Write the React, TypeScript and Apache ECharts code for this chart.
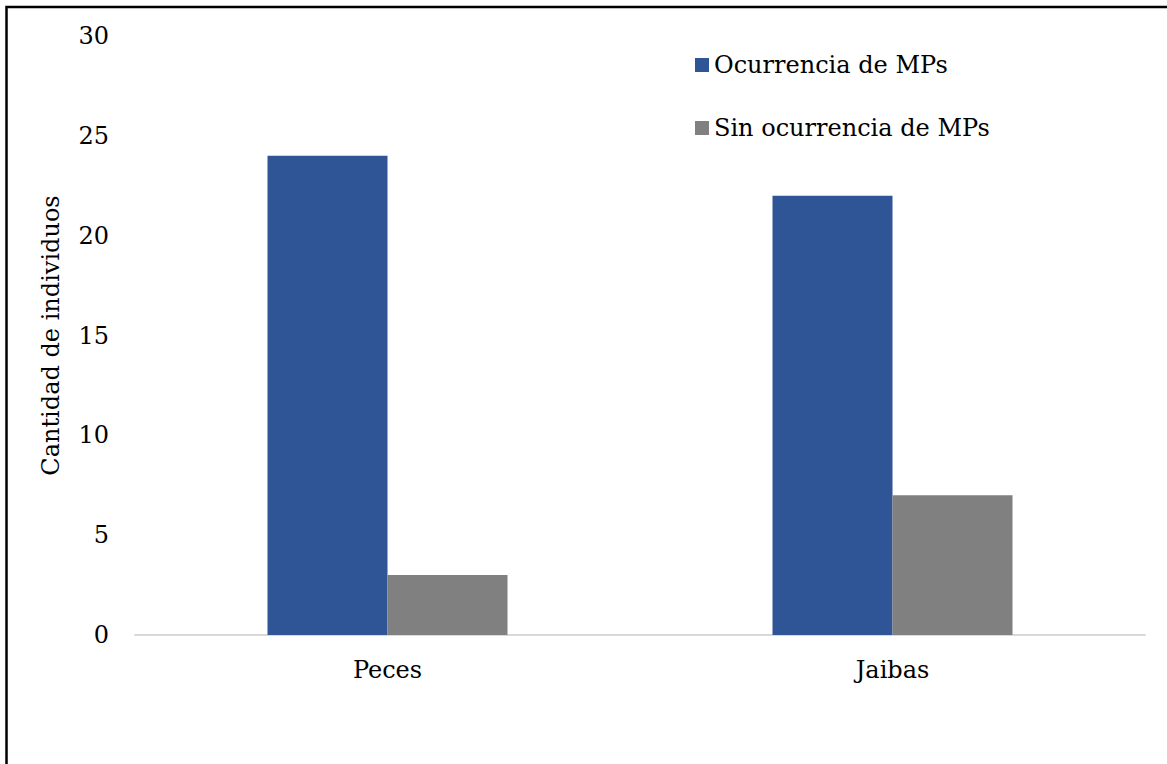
import React, { useEffect, useRef } from "react";
import * as echarts from "echarts";

const categories = ["Peces", "Jaibas"];
const ocurrencia = [24, 22];
const sinOcurrencia = [3, 7];
const seriesNames = ["Ocurrencia de MPs", "Sin ocurrencia de MPs"];
const yTicks = { min: 0, max: 30, interval: 5 };

const FONT = "DejaVu Serif";
const FS = 24;

export default function App() {
  const ref = useRef<HTMLDivElement>(null);

  useEffect(() => {
    if (!ref.current) return;
    const chart = echarts.init(ref.current, undefined, { renderer: "svg" });
    chart.setOption({
      animation: false,
      backgroundColor: "#ffffff",
      textStyle: { fontFamily: FONT },
      grid: { left: 135, right: 22, top: 36, bottom: 129, containLabel: false },
      legend: {
        orient: "vertical",
        left: 695,
        top: 53,
        padding: 0,
        itemWidth: 14,
        itemHeight: 14,
        itemGap: 39,
        icon: "rect",
        data: seriesNames,
        textStyle: {
          fontFamily: FONT,
          fontSize: FS,
          color: "#000000",
          lineHeight: 24,
        },
      },
      xAxis: {
        type: "category",
        data: categories,
        axisLine: { show: true, lineStyle: { color: "#d9d9d9", width: 2 } },
        axisTick: { show: false },
        axisLabel: { fontFamily: FONT, fontSize: FS, color: "#000000", margin: 23 },
      },
      yAxis: {
        type: "value",
        min: yTicks.min,
        max: yTicks.max,
        interval: yTicks.interval,
        name: "Cantidad de individuos",
        nameLocation: "middle",
        nameGap: 72,
        nameTextStyle: { fontFamily: FONT, fontSize: FS, color: "#000000" },
        axisLine: { show: false },
        axisTick: { show: false },
        splitLine: { show: false },
        axisLabel: { fontFamily: FONT, fontSize: FS, color: "#000000", margin: 26 },
      },
      series: [
        {
          name: seriesNames[0],
          type: "bar",
          data: ocurrencia,
          barWidth: 120,
          barGap: "0%",
          itemStyle: { color: "#2f5597" },
        },
        {
          name: seriesNames[1],
          type: "bar",
          data: sinOcurrencia,
          barWidth: 120,
          barGap: "0%",
          itemStyle: { color: "#808080" },
        },
      ],
      graphic: [
        {
          type: "polyline",
          shape: { points: [[6.5, 764], [6.5, 7], [1167, 7]] },
          style: { stroke: "#000000", lineWidth: 2.5, fill: "none" },
          silent: true,
        },
      ],
    });
    return () => chart.dispose();
  }, []);

  return (
    <div
      ref={ref}
      style={{ position: "absolute", left: 0, top: 0, width: 1167, height: 764 }}
    />
  );
}
